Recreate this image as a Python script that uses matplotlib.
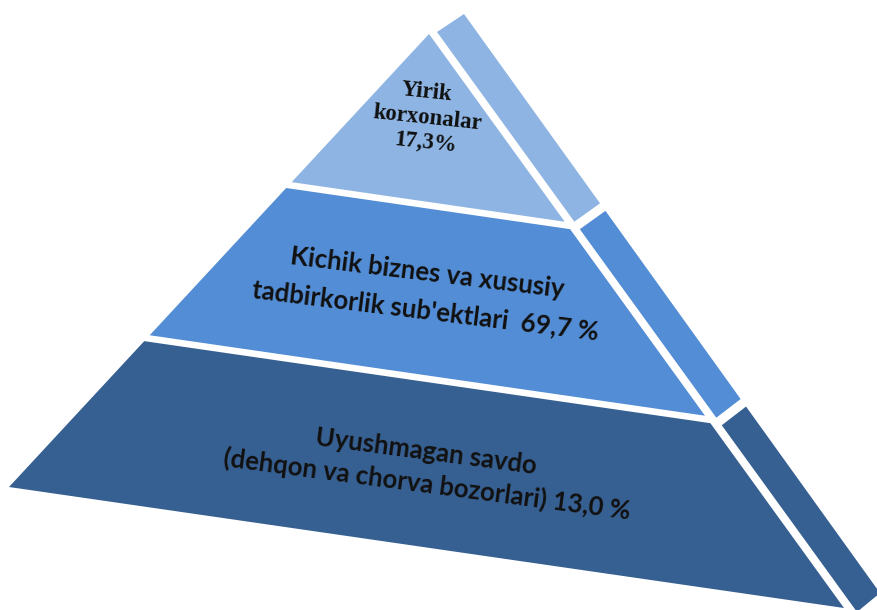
import numpy as np
import matplotlib
matplotlib.use('Agg')
import matplotlib.pyplot as plt
from matplotlib.patches import Polygon

#%% data

labels = [['Yirik', 'korxonalar', '17,3%'],
          ['Kichik biznes va xususiy', "tadbirkorlik sub'ektlari  69,7 %"],
          ['Uyushmagan savdo', '(dehqon va chorva bozorlari) 13,0 %']]
shares = [17.3, 69.7, 13.0]
colors = ['#8DB4E2', '#538DD5', '#376092']

# layer bands along the pyramid height (0 = apex, 1 = base)
bands = [(0.0, 0.327), (0.340, 0.665), (0.678, 1.0)]

# pyramid outline in pixel space (y down)
apex = np.array([429, 34])
base_left = np.array([9, 487])
base_right = np.array([844, 608])
side_in = (np.array([437, 32]), np.array([857, 612]))
side_out = (np.array([464, 14]), np.array([880, 593]))

#%%

W, H = 878, 610
fig = plt.figure(figsize=(W / 100, H / 100), dpi=100)
ax = fig.add_axes([0, 0, 1, 1])
ax.set_xlim(0, W)
ax.set_ylim(H, 0)
ax.axis('off')


def lerp(a, b, t):
    return a + (b - a) * t


for (t0, t1), c in zip(bands, colors):
    # front face
    pts = [lerp(apex, base_left, t0), lerp(apex, base_right, t0),
           lerp(apex, base_right, t1), lerp(apex, base_left, t1)]
    ax.add_patch(Polygon(pts, closed=True, facecolor=c, edgecolor='none'))
    # side face
    pts = [lerp(*side_in, t0), lerp(*side_out, t0),
           lerp(*side_out, t1), lerp(*side_in, t1)]
    ax.add_patch(Polygon(pts, closed=True, facecolor=c, edgecolor='none'))

#%% labels

sans = ['Liberation Sans Narrow', 'Lato', 'DejaVu Sans']

top_pos = [(427, 92), (427, 118), (425, 143)]
for s, (x, y) in zip(labels[0], top_pos):
    ax.text(x, y, s, ha='center', va='center', fontsize=16.5,
            fontweight='bold', family='Liberation Serif', rotation=-6,
            rotation_mode='anchor', color='#111111')

mid_pos = [(427, 273), (426, 310)]
for s, (x, y) in zip(labels[1], mid_pos):
    ax.text(x, y, s, ha='center', va='center', fontsize=18.5,
            fontweight='bold', family=sans, rotation=-7,
            rotation_mode='anchor', color='#111111')

bot_pos = [(426, 452), (427, 484)]
for s, (x, y) in zip(labels[2], bot_pos):
    ax.text(x, y, s, ha='center', va='center', fontsize=18.5,
            fontweight='bold', family=sans, rotation=-7.5,
            rotation_mode='anchor', color='#111111')

plt.savefig('out.png', dpi=100)
